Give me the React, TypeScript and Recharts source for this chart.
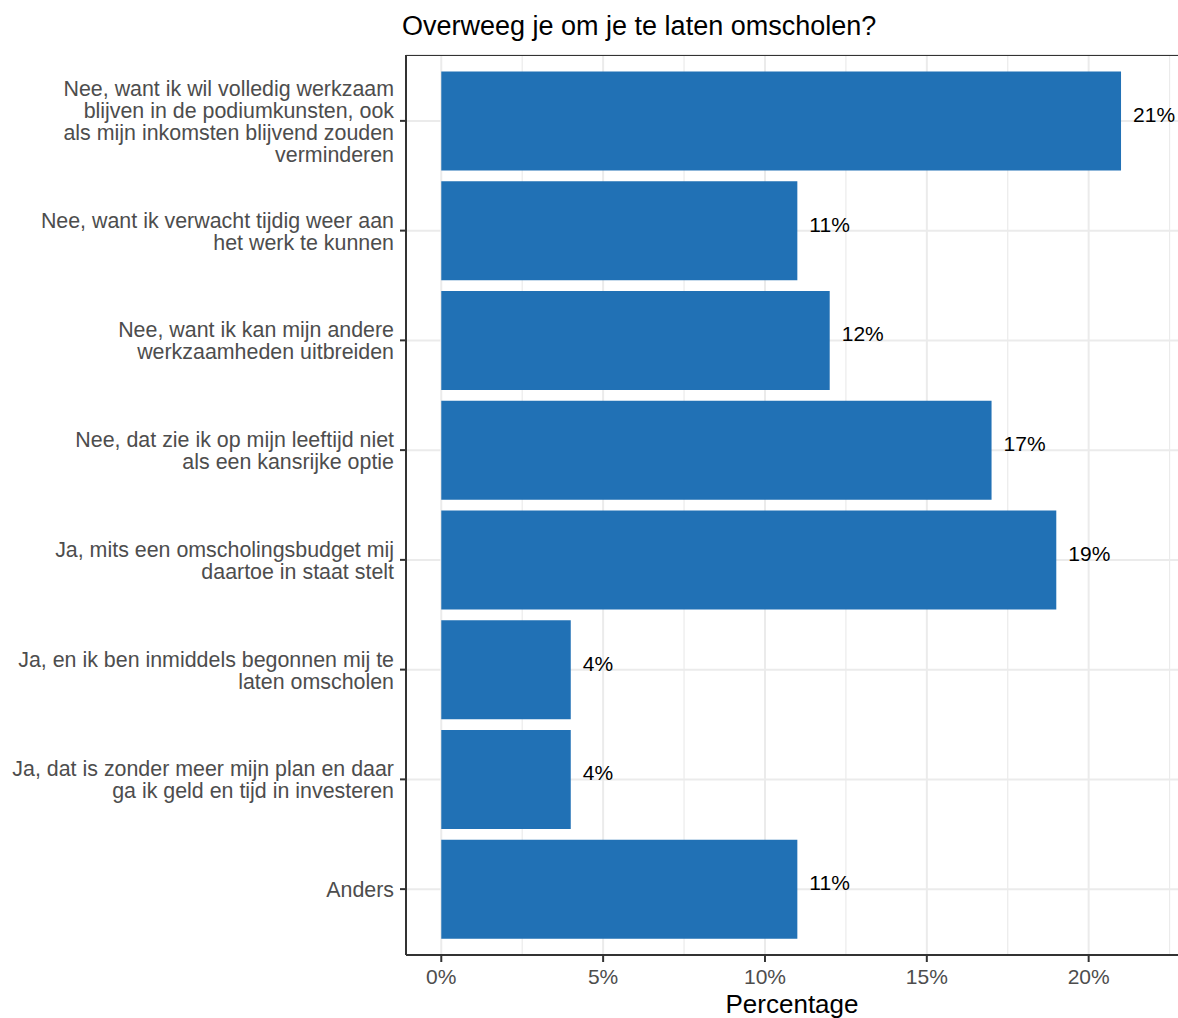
import React from "react";
import { BarChart, Bar, XAxis, YAxis, CartesianGrid, LabelList } from "recharts";

const CATEGORIES = [
  "Nee, want ik wil volledig werkzaam\nblijven in de podiumkunsten, ook\nals mijn inkomsten blijvend zouden\nverminderen",
  "Nee, want ik verwacht tijdig weer aan\nhet werk te kunnen",
  "Nee, want ik kan mijn andere\nwerkzaamheden uitbreiden",
  "Nee, dat zie ik op mijn leeftijd niet\nals een kansrijke optie",
  "Ja, mits een omscholingsbudget mij\ndaartoe in staat stelt",
  "Ja, en ik ben inmiddels begonnen mij te\nlaten omscholen",
  "Ja, dat is zonder meer mijn plan en daar\nga ik geld en tijd in investeren",
  "Anders",
];
const VALUES = [21, 11, 12, 17, 19, 4, 4, 11];
const X_TICKS = [0, 5, 10, 15, 20];
const MINOR_TICKS = [2.5, 7.5, 12.5, 17.5, 22.5];
const X_DOMAIN = [-1.09, 22.76];

const FONT = '"Liberation Sans", Arial, Helvetica, sans-serif';
const W = 1178;
const H = 1018;

const data = CATEGORIES.map((label, i) => ({ label, value: VALUES[i] }));

const CategoryTick = ({ x, y, payload }: any) => {
  const lines = String(payload.value).split("\n");
  const lh = 22;
  return (
    <text x={x} y={y} textAnchor="end" fill="#4d4d4d" fontSize={21.4} fontFamily={FONT}>
      {lines.map((ln, i) => (
        <tspan key={i} x={x} y={y + (i - (lines.length - 1) / 2) * lh + 8}>
          {ln}
        </tspan>
      ))}
    </text>
  );
};

const ValueLabel = ({ x, y, width, height, value }: any) => (
  <text x={x + width + 12} y={y + height / 2 + 1} fill="#000" fontSize={21} fontFamily={FONT}>
    {value}%
  </text>
);

const scaleX = (v: number, offset: any) =>
  offset.left + ((v - X_DOMAIN[0]) / (X_DOMAIN[1] - X_DOMAIN[0])) * offset.width;

export default function App() {
  return (
    <div style={{ position: "absolute", left: 0, top: 0, width: W, height: H, background: "#fff", fontFamily: FONT }}>
      <div
        style={{
          position: "absolute",
          left: 402,
          top: 13,
          fontSize: 27,
          lineHeight: "27px",
          color: "#000",
          whiteSpace: "nowrap",
        }}
      >
        Overweeg je om je te laten omscholen?
      </div>
      <BarChart
        width={W}
        height={H}
        data={data}
        layout="vertical"
        margin={{ top: 55, right: 0, bottom: 0, left: 0 }}
        barCategoryGap="5%"
      >
        <CartesianGrid
          stroke="#ebebeb"
          strokeWidth={1.2}
          horizontal={false}
          verticalCoordinatesGenerator={({ offset }: any) => MINOR_TICKS.map((v) => scaleX(v, offset))}
        />
        <CartesianGrid
          stroke="#ebebeb"
          strokeWidth={2}
          verticalCoordinatesGenerator={({ offset }: any) => X_TICKS.map((v) => scaleX(v, offset))}
        />
        {/* panel border on top */}
        <CartesianGrid
          stroke="#333"
          strokeWidth={1.2}
          vertical={false}
          horizontalCoordinatesGenerator={({ offset }: any) => [offset.top + 0.5]}
        />
        <XAxis
          type="number"
          domain={X_DOMAIN}
          allowDataOverflow
          ticks={X_TICKS}
          tickFormatter={(v) => `${v}%`}
          height={63}
          tickSize={7}
          tickMargin={7}
          tick={{ fill: "#4d4d4d", fontSize: 21, fontFamily: FONT }}
          tickLine={{ stroke: "#333", strokeWidth: 2 }}
          axisLine={{ stroke: "#333", strokeWidth: 2 }}
          label={{ value: "Percentage", position: "insideBottom", offset: 5, fill: "#000", fontSize: 26, fontFamily: FONT }}
        />
        <YAxis
          type="category"
          dataKey="label"
          width={406}
          padding={{ top: 11, bottom: 11 }}
          tickSize={6}
          tickMargin={6}
          interval={0}
          tick={<CategoryTick />}
          tickLine={{ stroke: "#333", strokeWidth: 2 }}
          axisLine={{ stroke: "#333", strokeWidth: 2 }}
        />
        <Bar dataKey="value" fill="#2171b5" isAnimationActive={false}>
          <LabelList dataKey="value" content={<ValueLabel />} />
        </Bar>
      </BarChart>
    </div>
  );
}
